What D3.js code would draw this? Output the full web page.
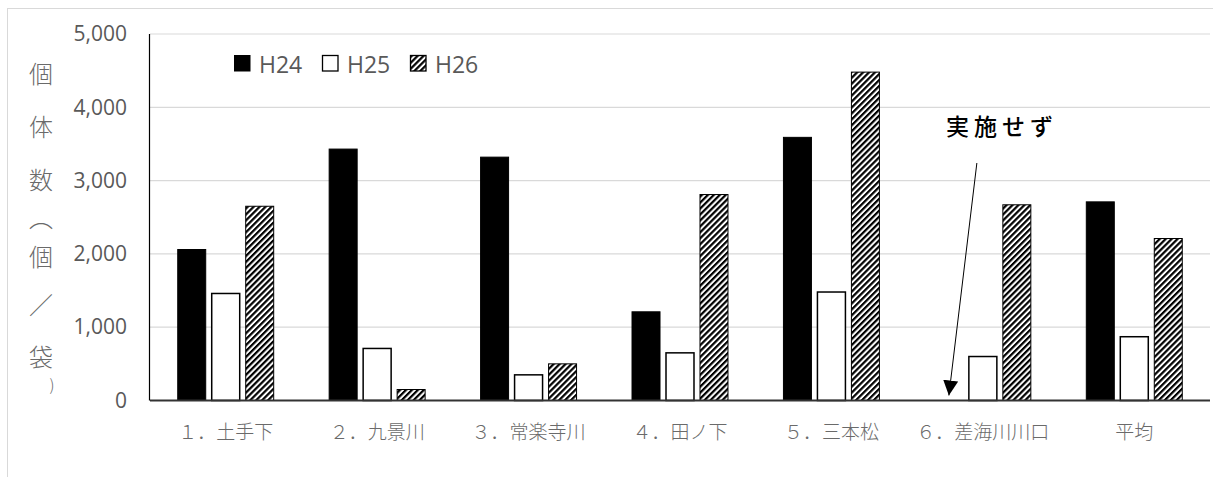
<!DOCTYPE html>
<html>
<head>
<meta charset="utf-8">
<script src="https://cdn.jsdelivr.net/npm/d3@7"></script>
<style>
  html, body { margin: 0; padding: 0; background: #fff; }
  svg { display: block; }
</style>
</head>
<body>
<svg id="chart"></svg>
<script>
// data
const categories = ["１．土手下", "２．九景川", "３．常楽寺川", "４．田ノ下", "５．三本松", "６．差海川川口", "平均"];
const seriesNames = ["H24", "H25", "H26"];
const h24 = [2060, 3430, 3320, 1210, 3590, null, 2710];
const h25 = [1460, 710, 350, 650, 1480, 600, 870];
const h26 = [2650, 150, 500, 2810, 4480, 2670, 2210];
const yTicks = [0, 1000, 2000, 3000, 4000, 5000];
const yTitle = ["個", "体", "数", "︵", "個", "／", "袋"];

const width = 1213, height = 477;
const margin = {top: 34, left: 150, right: 3, bottom: 76.5};
const grey = "#595959";

const svg = d3.select("#chart")
    .attr("width", width)
    .attr("height", height);

// hatch for H26
const defs = svg.append("defs");
defs.append("pattern")
    .attr("id", "hatch")
    .attr("patternUnits", "userSpaceOnUse")
    .attr("width", 4.2)
    .attr("height", 4.2)
    .attr("patternTransform", "rotate(45)")
    .call(p => {
        p.append("rect").attr("width", 4.2).attr("height", 4.2).attr("fill", "#fff");
        p.append("rect").attr("width", 2.2).attr("height", 4.2).attr("fill", "#000");
    });

// outer chart frame
svg.append("rect")
    .attr("x", 7.5).attr("y", 8.5)
    .attr("width", 1220).attr("height", 490)
    .attr("fill", "#fff")
    .attr("stroke", "#d9d9d9");

const x0 = d3.scaleBand()
    .domain(categories)
    .range([margin.left, width - margin.right]);

const x1 = d3.scaleBand()
    .domain(seriesNames)
    .range([0, x0.bandwidth()])
    .paddingInner(6 / 34)
    .paddingOuter(0.816);

const y = d3.scaleLinear()
    .domain([0, 5000])
    .range([height - margin.bottom, margin.top]);

// gridlines
svg.append("g")
    .selectAll("line")
    .data(yTicks.filter(d => d > 0))
    .join("line")
    .attr("x1", margin.left)
    .attr("x2", width - margin.right)
    .attr("y1", d => y(d))
    .attr("y2", d => y(d))
    .attr("stroke", "#d9d9d9")
    .attr("stroke-width", 1.2);

// y tick labels
const yAxis = svg.append("g")
    .attr("transform", `translate(${margin.left},0)`)
    .call(d3.axisLeft(y).tickValues(yTicks).tickFormat(d3.format(",")).tickSize(0).tickPadding(23));
yAxis.select(".domain").remove();
yAxis.selectAll("text")
    .attr("font-family", "'Open Sans', sans-serif")
    .attr("font-size", 21)
    .attr("fill", grey);

// bars
const rows = categories.map((c, i) => ({cat: c, values: [h24[i], h25[i], h26[i]]}));
const fills = {H24: "#000", H25: "#fff", H26: "url(#hatch)"};

svg.append("g")
    .selectAll("g")
    .data(rows)
    .join("g")
    .attr("transform", d => `translate(${x0(d.cat)},0)`)
    .selectAll("rect")
    .data(d => seriesNames.map((s, j) => ({s, v: d.values[j]})).filter(e => e.v != null))
    .join("rect")
    .attr("x", d => x1(d.s))
    .attr("width", x1.bandwidth())
    .attr("y", d => y(d.v))
    .attr("height", d => y(0) - y(d.v))
    .attr("fill", d => fills[d.s])
    .attr("stroke", "#000")
    .attr("stroke-width", d => d.s === "H25" ? 1.5 : 1);

// axis lines
svg.append("line")
    .attr("x1", margin.left).attr("x2", width - margin.right)
    .attr("y1", y(0)).attr("y2", y(0))
    .attr("stroke", "#333").attr("stroke-width", 2);
svg.append("line")
    .attr("x1", margin.left - 0.5).attr("x2", margin.left - 0.5)
    .attr("y1", y(5000)).attr("y2", y(0))
    .attr("stroke", "#000").attr("stroke-width", 1.2);

// category labels
svg.append("g")
    .selectAll("text")
    .data(categories)
    .join("text")
    .attr("x", d => x0(d) + x0.bandwidth() / 2)
    .attr("y", 439)
    .attr("text-anchor", "middle")
    .attr("font-family", "'Noto Sans CJK JP', sans-serif")
    .attr("font-weight", 300)
    .attr("font-size", 19)
    .attr("fill", "#6a6a6a")
    .text(d => d);

// y title, stacked characters
const titleY = [72, 125, 178, 216, 255, 303, 355];
svg.append("g")
    .selectAll("text")
    .data(yTitle)
    .join("text")
    .attr("x", 41)
    .attr("y", (d, i) => titleY[i])
    .attr("text-anchor", "middle")
    .attr("dominant-baseline", "central")
    .attr("font-family", "'Noto Sans CJK JP', sans-serif")
    .attr("font-weight", 300)
    .attr("font-size", 24)
    .attr("fill", "#6a6a6a")
    .text(d => d);
svg.append("text")
    .attr("x", 52).attr("y", 391)
    .attr("text-anchor", "middle")
    .attr("font-family", "'Noto Sans CJK JP', sans-serif")
    .attr("font-weight", 300)
    .attr("font-size", 16)
    .attr("fill", "#6a6a6a")
    .text(")");

// legend
const legend = svg.append("g")
    .selectAll("g")
    .data(seriesNames)
    .join("g")
    .attr("transform", (d, i) => `translate(${234.5 + i * 88},55.5)`);
legend.append("rect")
    .attr("width", 15.5).attr("height", 15.5)
    .attr("fill", d => fills[d])
    .attr("stroke", "#000")
    .attr("stroke-width", d => d === "H24" ? 1 : 1.3);
legend.append("text")
    .attr("x", 24.5).attr("y", 17.5)
    .attr("font-family", "'Open Sans', sans-serif")
    .attr("font-size", 23)
    .attr("fill", grey)
    .text(d => d);

// annotation for the missing H24 bar at site 6
const missing = categories[5];
const tipX = x0(missing) + x1("H24") + x1.bandwidth() / 2;
const tipY = y(0) - 5;
const startX = tipX + 28, startY = 163;
defs.append("marker")
    .attr("id", "arrow")
    .attr("viewBox", "0 0 10 10")
    .attr("refX", 10).attr("refY", 5)
    .attr("markerWidth", 15).attr("markerHeight", 15)
    .attr("markerUnits", "userSpaceOnUse")
    .attr("orient", "auto")
    .append("path")
    .attr("d", "M0,0 L10,5 L0,10 Z")
    .attr("fill", "#000");
svg.append("line")
    .attr("x1", startX).attr("y1", startY)
    .attr("x2", tipX).attr("y2", tipY)
    .attr("stroke", "#000")
    .attr("stroke-width", 1)
    .attr("marker-end", "url(#arrow)");
svg.append("text")
    .attr("x", 1002).attr("y", 135)
    .attr("text-anchor", "middle")
    .attr("font-family", "'Noto Sans CJK JP', sans-serif")
    .attr("font-size", 23)
    .attr("font-weight", 500)
    .attr("letter-spacing", 5)
    .attr("fill", "#000")
    .text("実施せず");
</script>
</body>
</html>
